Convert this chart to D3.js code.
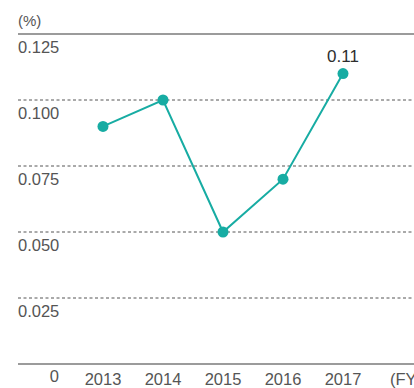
<!DOCTYPE html>
<html>
<head>
<meta charset="utf-8">
<script src="https://cdn.jsdelivr.net/npm/d3@7"></script>
<style>
  html, body { margin: 0; padding: 0; background: #fff; overflow: hidden; }
  svg { display: block; font-family: "Liberation Sans", Arial, sans-serif; }
</style>
</head>
<body>
<svg id="chart" width="414" height="388"></svg>
<script>
// Fiscal years and the ratio (%) for each
const years = [2013, 2014, 2015, 2016, 2017];
const values = [0.09, 0.10, 0.05, 0.07, 0.11];
const yTicks = [0, 0.025, 0.05, 0.075, 0.1, 0.125];
const labelledYear = 2017;
const labelledValue = 0.11;

const svg = d3.select("#chart");
const W = 414;
const left = 18;

const x = d3.scaleLinear().domain([2013, 2017]).range([103, 343]);
const y = d3.scaleLinear().domain([0, 0.125]).range([364, 34]);

const teal = "#17aca3";
const textGrey = "#555";

// Horizontal gridlines: solid at top and bottom, dashed in between
yTicks.forEach(t => {
  const edge = (t === 0 || t === 0.125);
  svg.append("line")
    .attr("x1", left).attr("x2", W)
    .attr("y1", y(t)).attr("y2", y(t))
    .attr("stroke", edge ? "#7a7a7a" : "#555")
    .attr("stroke-width", edge ? 1.5 : 1)
    .attr("stroke-dasharray", edge ? null : "3,2.5");
});

// Y tick labels sit just below their gridline
yTicks.filter(t => t > 0).forEach(t => {
  svg.append("text")
    .attr("x", left)
    .attr("y", y(t) + 19)
    .attr("fill", textGrey)
    .attr("font-size", 16.5)
    .text(d3.format(".3f")(t));
});
svg.append("text")
  .attr("x", 59).attr("y", y(0) + 18)
  .attr("text-anchor", "end")
  .attr("fill", textGrey).attr("font-size", 16.5)
  .text("0");

// Unit label
svg.append("text")
  .attr("x", left).attr("y", 26)
  .attr("fill", textGrey).attr("font-size", 15)
  .text("(%)");

// X axis labels
svg.selectAll("text.year")
  .data(years)
  .enter().append("text")
  .attr("class", "year")
  .attr("x", d => x(d))
  .attr("y", 385)
  .attr("text-anchor", "middle")
  .attr("fill", textGrey)
  .attr("font-size", 16.5)
  .text(d => d);
svg.append("text")
  .attr("x", 390).attr("y", 385)
  .attr("fill", textGrey).attr("font-size", 16.5)
  .text("(FY)");

// Series line and markers
const pts = years.map((d, i) => [d, values[i]]);
svg.append("path")
  .datum(pts)
  .attr("fill", "none")
  .attr("stroke", teal)
  .attr("stroke-width", 2)
  .attr("d", d3.line().x(d => x(d[0])).y(d => y(d[1])));

svg.selectAll("circle.pt")
  .data(pts)
  .enter().append("circle")
  .attr("class", "pt")
  .attr("cx", d => x(d[0]))
  .attr("cy", d => y(d[1]))
  .attr("r", 5.5)
  .attr("fill", teal);

// Value label on the latest year
svg.append("text")
  .attr("x", x(labelledYear))
  .attr("y", y(labelledValue) - 12)
  .attr("text-anchor", "middle")
  .attr("fill", "#2e2e2e")
  .attr("font-size", 17)
  .attr("font-weight", "500")
  .text(labelledValue.toFixed(2));
</script>
</body>
</html>
